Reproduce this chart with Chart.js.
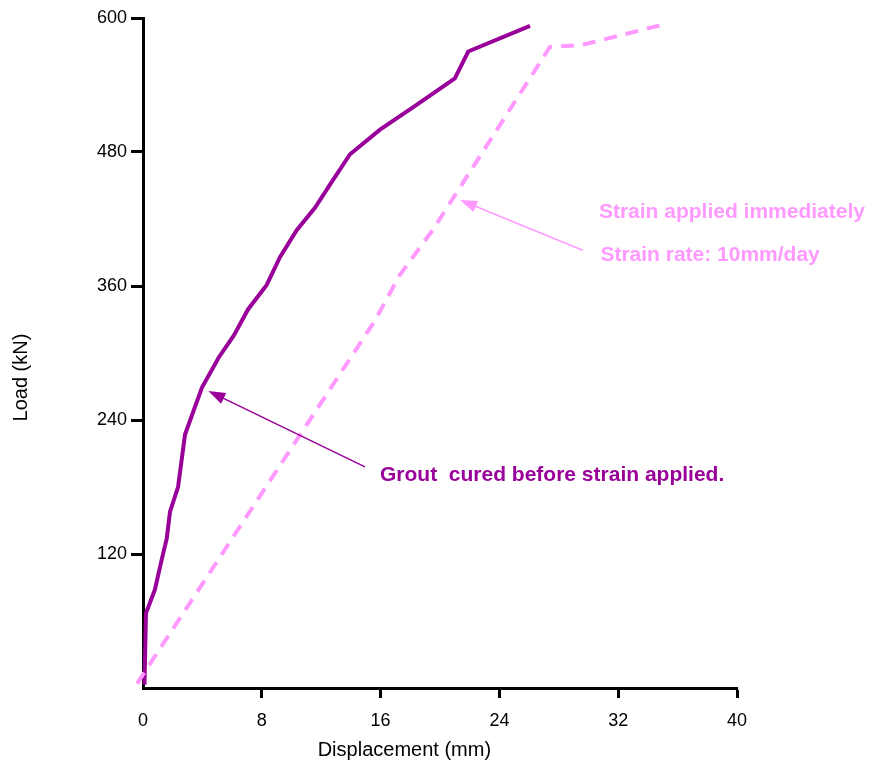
<!DOCTYPE html>
<html>
<head>
<meta charset="utf-8">
<script src="https://cdn.jsdelivr.net/npm/chart.js@4/dist/chart.umd.min.js"></script>
<style>
  html, body { margin: 0; padding: 0; background: #fff; }
  #wrap { width: 875px; height: 767px; }
</style>
</head>
<body>
<div id="wrap"><canvas id="grafico" width="875" height="767"></canvas></div>
<script>
// curva: grout curado antes da deformação
const groutX = [0.1, 0.2, 0.8, 1.26, 1.6, 1.82, 2.36, 2.83, 3.97, 5.1, 6.13, 7.07, 8.33, 9.23, 10.35, 11.58, 12.7, 13.94, 15.96, 18.3, 21.0, 21.9, 26.06];
const groutY = [3, 67, 88, 115, 134, 158, 180, 227, 269, 296, 316, 339, 361, 386, 410, 430, 453, 478, 500, 521, 546, 570, 593];

// curva: deformação aplicada imediatamente
const strainX = [-0.4, 15.62, 17.3, 19.5, 27.4, 29.6, 35.0];
const strainY = [4, 329, 370, 410, 574, 576, 594];

const xTicks = [0, 8, 16, 24, 32, 40];
const yTicks = [120, 240, 360, 480, 600];

const roxo = "#990099";
const rosa = "#ff99ff";
const familia = "Liberation Sans, Arial, sans-serif";

function pontos(xs, ys) {
  return xs.map((x, i) => ({ x: x, y: ys[i] }));
}

// anotações (em coordenadas do gráfico)
const setas = [
  { de: [14.95, 198], para: [4.4, 266], cor: roxo },
  { de: [29.6, 392], para: [21.35, 437], cor: rosa },
];
const textos = [
  { texto: "Strain applied immediately", x: 30.7, y: 426, cor: rosa },
  { texto: "Strain rate: 10mm/day", x: 30.8, y: 388, cor: rosa },
  { texto: "Grout  cured before strain applied.", x: 15.96, y: 191, cor: roxo },
];

const anotacoes = {
  id: "anotacoes",
  afterDatasetsDraw(chart) {
    const ctx = chart.ctx;
    const sx = chart.scales.x;
    const sy = chart.scales.y;
    ctx.save();
    setas.forEach((s) => {
      const x1 = sx.getPixelForValue(s.de[0]);
      const y1 = sy.getPixelForValue(s.de[1]);
      const x2 = sx.getPixelForValue(s.para[0]);
      const y2 = sy.getPixelForValue(s.para[1]);
      const ang = Math.atan2(y2 - y1, x2 - x1);
      ctx.strokeStyle = s.cor;
      ctx.fillStyle = s.cor;
      ctx.lineWidth = 1.5;
      ctx.beginPath();
      ctx.moveTo(x1, y1);
      ctx.lineTo(x2 - 10 * Math.cos(ang), y2 - 10 * Math.sin(ang));
      ctx.stroke();
      ctx.beginPath();
      ctx.moveTo(x2, y2);
      ctx.lineTo(x2 - 17 * Math.cos(ang) + 6 * Math.sin(ang), y2 - 17 * Math.sin(ang) - 6 * Math.cos(ang));
      ctx.lineTo(x2 - 17 * Math.cos(ang) - 6 * Math.sin(ang), y2 - 17 * Math.sin(ang) + 6 * Math.cos(ang));
      ctx.closePath();
      ctx.fill();
    });
    ctx.font = "bold 21px " + familia;
    ctx.textBaseline = "middle";
    ctx.textAlign = "left";
    textos.forEach((t) => {
      ctx.fillStyle = t.cor;
      ctx.fillText(t.texto, sx.getPixelForValue(t.x), sy.getPixelForValue(t.y));
    });

    // títulos dos eixos
    ctx.fillStyle = "#000";
    ctx.font = "20px " + familia;
    ctx.textAlign = "center";
    ctx.fillText("Displacement (mm)", sx.getPixelForValue(17.6), chart.height - 17);
    ctx.translate(21, sy.getPixelForValue(278));
    ctx.rotate(-Math.PI / 2);
    ctx.fillText("Load (kN)", 0, 0);
    ctx.restore();
  },
};

const fonteEixo = { family: familia, size: 18 };
const semZero = (c) => (c.tick && c.tick.value === 0 ? "rgba(0,0,0,0)" : "#000");

new Chart(document.getElementById("grafico"), {
  type: "line",
  data: {
    datasets: [
      {
        label: "Strain applied immediately",
        data: pontos(strainX, strainY),
        borderColor: rosa,
        borderWidth: 4,
        borderDash: [13, 9],
        pointRadius: 0,
        tension: 0,
        clip: false,
      },
      {
        label: "Grout cured before strain applied",
        data: pontos(groutX, groutY),
        borderColor: roxo,
        borderWidth: 4,
        pointRadius: 0,
        tension: 0,
        clip: false,
      },
    ],
  },
  options: {
    responsive: false,
    animation: false,
    devicePixelRatio: 1,
    layout: { padding: { left: 0, top: 18, right: 138, bottom: 0 } },
    plugins: { legend: { display: false }, tooltip: { enabled: false } },
    scales: {
      x: {
        type: "linear",
        min: 0,
        max: 40,
        afterBuildTicks: (s) => { s.ticks = xTicks.map((v) => ({ value: v })); },
        afterFit: (s) => { s.height = 79; },
        border: { color: "#000", width: 3 },
        grid: { drawOnChartArea: false, tickLength: 10, tickWidth: 3, tickColor: semZero },
        ticks: { color: "#000", font: fonteEixo, padding: 12, maxRotation: 0 },
      },
      y: {
        type: "linear",
        min: 0,
        max: 600,
        afterBuildTicks: (s) => { s.ticks = yTicks.map((v) => ({ value: v })); },
        afterFit: (s) => { s.width = 143; },
        border: { color: "#000", width: 3 },
        grid: { drawOnChartArea: false, tickLength: 12, tickWidth: 3, tickColor: semZero },
        ticks: { color: "#000", font: fonteEixo, padding: 4 },
      },
    },
  },
  plugins: [anotacoes],
});
</script>
</body>
</html>
